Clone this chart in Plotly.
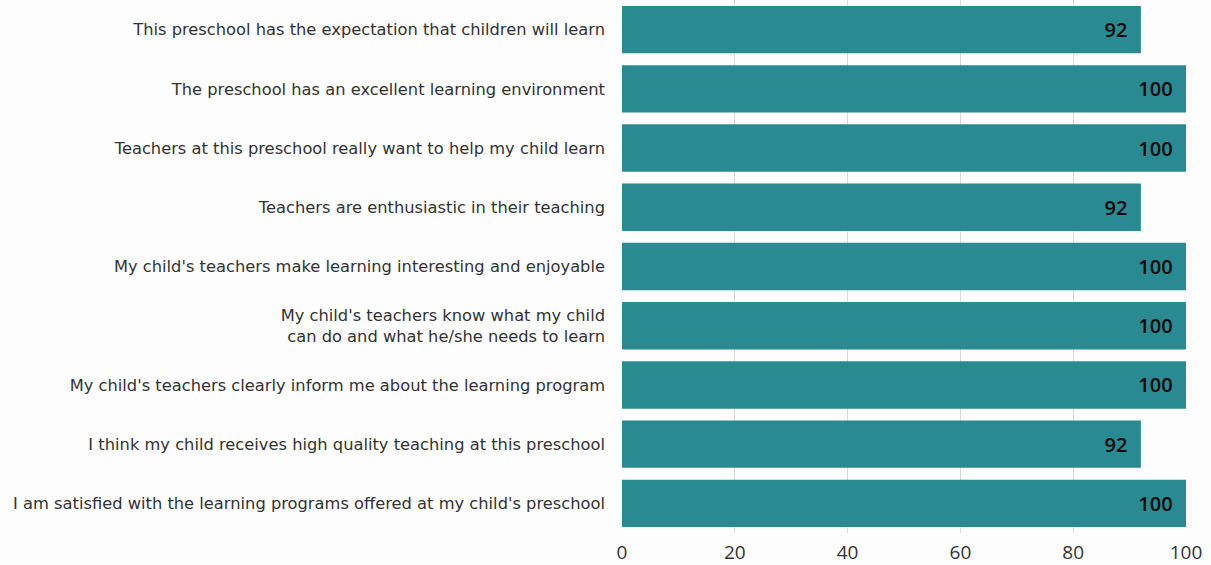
import plotly.graph_objects as go

categories = [
    "This preschool has the expectation that children will learn",
    "The preschool has an excellent learning environment",
    "Teachers at this preschool really want to help my child learn",
    "Teachers are enthusiastic in their teaching",
    "My child's teachers make learning interesting and enjoyable",
    "My child's teachers know what my child<br>can do and what he/she needs to learn",
    "My child's teachers clearly inform me about the learning program",
    "I think my child receives high quality teaching at this preschool",
    "I am satisfied with the learning programs offered at my child's preschool",
]
values = [92, 100, 100, 92, 100, 100, 100, 92, 100]
x_ticks = [0, 20, 40, 60, 80, 100]

fig = go.Figure(
    go.Bar(
        y=categories,
        x=values,
        orientation="h",
        marker=dict(color="#2a8a91", line=dict(width=0)),
        text=[str(v) + "\u00a0\u00a0" for v in values],
        textposition="inside",
        insidetextanchor="end",
        textfont=dict(family="Open Sans", size=20, color="#0a0a0a", weight=600),
        cliponaxis=False,
        hoverinfo="skip",
    )
)

fig.update_layout(
    width=1211,
    height=565,
    margin=dict(l=622, r=25, t=0, b=32),
    paper_bgcolor="#fdfdfd",
    plot_bgcolor="#fdfdfd",
    bargap=0.2,
    showlegend=False,
    font=dict(family="Open Sans", color="#333333"),
)
fig.update_xaxes(
    range=[0, 100],
    tickvals=x_ticks,
    showgrid=True,
    gridcolor="#d8d8d8",
    gridwidth=1,
    zeroline=False,
    tickfont=dict(size=19, color="#333333"),
    ticklabelstandoff=6,
    ticks="",
)
fig.update_yaxes(
    autorange="reversed",
    tickfont=dict(family="DejaVu Sans", size=16.3, color="#333333"),
    ticklabelstandoff=16,
    ticks="",
    showgrid=False,
)

fig.write_html(
    "out.html",
    config={"displayModeBar": False},
    post_script="document.body.style.margin='0';document.body.style.overflow='hidden';",
)
